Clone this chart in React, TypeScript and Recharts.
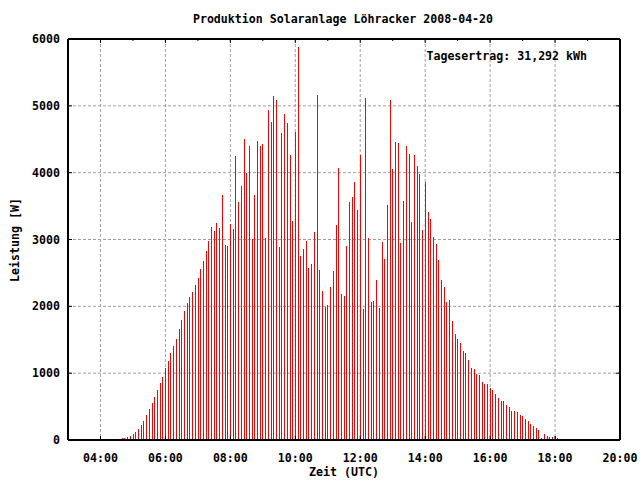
import React from 'react';
import { ComposedChart, Bar, XAxis, YAxis, CartesianGrid } from 'recharts';

const FONT = "'DejaVu Sans Mono', 'Liberation Mono', monospace";
const FS = 11.6;

const title = 'Produktion Solaranlage Löhracker 2008-04-20';
const yieldText = 'Tagesertrag: 31,292 kWh';
const xLabel = 'Zeit (UTC)';
const yLabel = 'Leistung [W]';

// first sample 04:30, one sample every 5 minutes
const startMinute = 270;
const stepMinutes = 5;

const power = [
  // 04:30 - 05:55
  15, 20, 35, 35, 50, 65, 95, 125, 170, 225, 290, 375, 465, 555, 650, 750, 850, 945,
  // 06:00 - 06:55
  1070, 1182, 1297, 1406, 1511, 1661, 1796, 1930, 2050, 2140, 2214, 2319,
  // 07:00 - 07:55
  2424, 2559, 2678, 2828, 2978, 3187, 3127, 3247, 3172, 3666, 2918, 2903,
  // 08:00 - 08:55
  3232, 3157, 4249, 3561, 3800, 4504, 3995, 4399, 3007, 3666, 4474, 4399,
  // 09:00 - 09:55
  4429, 3022, 4938, 4758, 5147, 5087, 2888, 4594, 4878, 4743, 4264, 3277,
  // 10:00 - 10:55
  4608, 5880, 2753, 2858, 2978, 2574, 2633, 3112, 5162, 2544, 2229, 1990,
  // 11:00 - 11:55
  2020, 2289, 2529, 3217, 4070, 2185, 2155, 2903, 3561, 3636, 3860, 3441,
  // 12:00 - 12:55
  4264, 1960, 5117, 3022, 2065, 2080, 2394, 1975, 2963, 2708, 3516, 5087,
  // 13:00 - 13:55
  4055, 4459, 4444, 2948, 3576, 4399, 4279, 3262, 4265, 4100, 3980, 3142,
  // 14:00 - 14:55
  3860, 3412, 3307, 3038, 2933, 2693, 2394, 2289, 2065, 2095, 1781, 1586,
  // 15:00 - 15:55
  1511, 1451, 1332, 1302, 1197, 1077, 1062, 988, 973, 868, 838, 838,
  // 16:00 - 16:55
  778, 748, 688, 628, 584, 584, 524, 494, 434, 434, 419, 374,
  // 17:00 - 17:55
  359, 314, 284, 239, 209, 180, 150, 30, 90, 60, 45, 45,
  // 18:00 - 18:10
  60, 30, 15,
];

const xDomain = [180, 1200];
const labelTicks = [240, 360, 480, 600, 720, 840, 960, 1080, 1200];
const hourTicks = [240, 300, 360, 420, 480, 540, 600, 660, 720, 780, 840, 900, 960, 1020, 1080, 1140];
const gridTicks = [240, 360, 480, 600, 720, 840, 960, 1080];
const yTicks = [0, 1000, 2000, 3000, 4000, 5000, 6000];

const data = power.map((p, i) => ({ t: startMinute + i * stepMinutes, p }));

const pad = (n: number) => String(n).padStart(2, '0');
const fmt = (m: number) => `${pad(Math.floor(m / 60))}:${pad(m % 60)}`;

const textStyle = {
  fontFamily: FONT,
  fontSize: FS,
  fontWeight: 'bold' as const,
  fill: '#000',
};

const BottomTick = (props: any) => {
  const { x, y, payload } = props;
  return (
    <g>
      <line x1={x} x2={x} y1={y} y2={y - 4} stroke="#000" strokeWidth={1} />
      <text x={x} y={y + 18} textAnchor="middle" dominantBaseline="central" style={textStyle}>
        {fmt(payload.value)}
      </text>
    </g>
  );
};

const TopTick = (props: any) => {
  const { x, y, payload } = props;
  const major = payload.value % 120 === 0;
  return <line x1={x} x2={x} y1={y} y2={y + (major ? 4 : 2)} stroke="#000" strokeWidth={1} />;
};

const LeftTick = (props: any) => {
  const { x, y, payload } = props;
  return (
    <g>
      <line x1={x} x2={x + 4} y1={y} y2={y} stroke="#000" strokeWidth={1} />
      <text x={x - 8} y={y} textAnchor="end" dominantBaseline="central" style={textStyle}>
        {payload.value}
      </text>
    </g>
  );
};

const RightTick = (props: any) => {
  const { x, y } = props;
  return <line x1={x} x2={x - 4} y1={y} y2={y} stroke="#000" strokeWidth={1} />;
};

const axisLine = { stroke: '#000', strokeWidth: 2 };

export default function App() {
  return (
    <div style={{ position: 'absolute', left: 0, top: 0, width: 640, height: 480, background: '#fff' }}>
      <ComposedChart
        width={640}
        height={480}
        data={data}
        margin={{ top: 38, right: 19, bottom: 10, left: 8 }}
      >
        <CartesianGrid
          xAxisId="grid"
          yAxisId="l"
          stroke="#a0a0a0"
          strokeDasharray="3 2"
          strokeWidth={1}
        />
        <XAxis
          xAxisId="grid"
          dataKey="t"
          type="number"
          domain={xDomain}
          ticks={gridTicks}
          allowDataOverflow
          hide
        />
        <XAxis
          xAxisId="b"
          dataKey="t"
          type="number"
          domain={xDomain}
          ticks={labelTicks}
          interval={0}
          allowDataOverflow
          height={30}
          tickSize={0}
          tickMargin={0}
          tickLine={false}
          axisLine={axisLine}
          tick={(p: any) => <BottomTick {...p} />}
        />
        <XAxis
          xAxisId="top"
          orientation="top"
          dataKey="t"
          type="number"
          domain={xDomain}
          ticks={hourTicks}
          interval={0}
          allowDataOverflow
          height={1}
          tickSize={0}
          tickMargin={0}
          tickLine={false}
          axisLine={axisLine}
          tick={(p: any) => <TopTick {...p} />}
        />
        <YAxis
          yAxisId="l"
          type="number"
          domain={[0, 6000]}
          ticks={yTicks}
          interval={0}
          allowDataOverflow
          width={60}
          tickSize={0}
          tickMargin={0}
          tickLine={false}
          axisLine={axisLine}
          tick={(p: any) => <LeftTick {...p} />}
        />
        <YAxis
          yAxisId="r"
          orientation="right"
          type="number"
          domain={[0, 6000]}
          ticks={yTicks}
          interval={0}
          allowDataOverflow
          width={1}
          tickSize={0}
          tickMargin={0}
          tickLine={false}
          axisLine={axisLine}
          tick={(p: any) => <RightTick {...p} />}
        />
        <Bar
          xAxisId="b"
          yAxisId="l"
          dataKey="p"
          fill="#ff0000"
          barSize={1}
          shapeRendering="crispEdges"
          isAnimationActive={false}
        />
      </ComposedChart>
      <svg
        width={640}
        height={480}
        style={{ position: 'absolute', left: 0, top: 0, pointerEvents: 'none' }}
      >
        <text x={343} y={19} textAnchor="middle" dominantBaseline="central" style={textStyle}>
          {title}
        </text>
        <text x={587} y={56} textAnchor="end" dominantBaseline="central" style={textStyle}>
          {yieldText}
        </text>
        <text x={344} y={472} textAnchor="middle" dominantBaseline="central" style={textStyle}>
          {xLabel}
        </text>
        <text
          x={15}
          y={240}
          textAnchor="middle"
          dominantBaseline="central"
          transform="rotate(-90 15 240)"
          style={textStyle}
        >
          {yLabel}
        </text>
      </svg>
    </div>
  );
}
